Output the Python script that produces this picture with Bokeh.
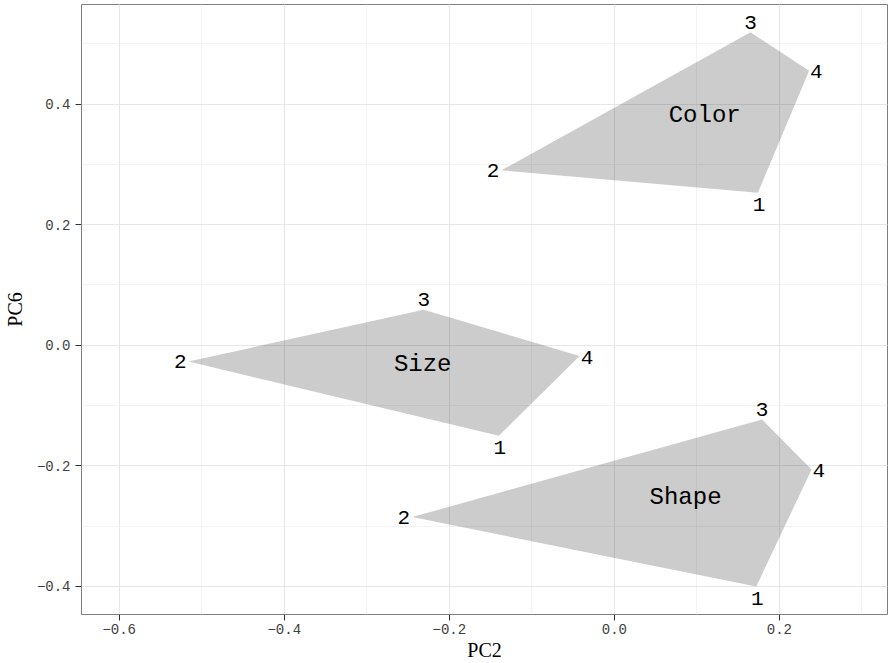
import numpy as np
from bokeh.plotting import figure
from bokeh.models import Range1d, SingleIntervalTicker, CustomJSTickFormatter, ColumnDataSource
from bokeh.core.properties import value
from bokeh.embed import file_html
from bokeh.resources import INLINE

# Principal-component positions of the four conditions in each feature group
groups = ["Color", "Size", "Shape"]
vertex_ids = ["1", "2", "3", "4"]
pc2_color = [0.174, -0.137, 0.165, 0.236]
pc6_color = [0.253, 0.290, 0.519, 0.455]
pc2_size = [-0.140, -0.516, -0.231, -0.042]
pc6_size = [-0.150, -0.027, 0.059, -0.018]
pc2_shape = [0.172, -0.245, 0.179, 0.239]
pc6_shape = [-0.400, -0.285, -0.123, -0.206]

x_ticks_interval = 0.2

pc2 = [pc2_color, pc2_size, pc2_shape]
pc6 = [pc6_color, pc6_size, pc6_shape]

MONO = "Liberation Mono"
SERIF = "Liberation Serif"

p = figure(width=888, height=663, output_backend="svg", toolbar_location=None,
           x_range=Range1d(-0.6457, 0.331), y_range=Range1d(-0.4465, 0.565),
           min_border_left=80, min_border_right=1, min_border_top=4, min_border_bottom=49)

p.background_fill_color = "white"
p.border_fill_color = "white"
p.outline_line_color = "#7F7F7F"
p.outline_line_width = 1

# axes
fmt = CustomJSTickFormatter(code="""
const a = Math.abs(tick) < 1e-9 ? 0 : tick;
return (a < 0 ? '\u2212' : '') + Math.abs(a).toFixed(1);
""")
for ax, lab in ((p.xaxis, "PC2"), (p.yaxis, "PC6")):
    ax.ticker = SingleIntervalTicker(interval=x_ticks_interval, num_minor_ticks=2)
    ax.formatter = fmt
    ax.axis_label = lab
    ax.axis_label_text_font = SERIF
    ax.axis_label_text_font_size = "20px"
    ax.axis_label_text_font_style = "normal"
    ax.axis_label_text_color = "black"
    ax.major_label_text_font = MONO
    ax.major_label_text_font_size = "14px"
    ax.major_label_text_color = "#404040"
    ax.axis_line_color = None
    ax.major_tick_line_color = "#333333"
    ax.major_tick_out = 6
    ax.major_tick_in = 0
    ax.minor_tick_line_color = None
p.xaxis.major_label_standoff = 3
p.xaxis.axis_label_standoff = 2
p.yaxis.major_label_standoff = 5
p.yaxis.axis_label_standoff = 8

for g in (p.xgrid, p.ygrid):
    g.grid_line_color = "#E6E6E6"
    g.grid_line_width = 1
    g.minor_grid_line_color = "#F3F3F3"
    g.minor_grid_line_width = 1

# hull polygons, one per group
poly_src = ColumnDataSource(dict(xs=pc2, ys=pc6, group=groups))
p.patches("xs", "ys", source=poly_src, fill_color="black", fill_alpha=0.2, line_color=None)

# vertex numbers placed around each corner
placement = {
    "1": ("center", 1, 12),
    "2": ("right", -2, 0),
    "3": ("center", 0, -10),
    "4": ("left", 1, 1),
}
vx, vy, vt, va, vxo, vyo = [], [], [], [], [], []
for xs, ys in zip(pc2, pc6):
    for vid, x, y in zip(vertex_ids, xs, ys):
        a, xo, yo = placement[vid]
        vx.append(x); vy.append(y); vt.append(vid)
        va.append(a); vxo.append(xo); vyo.append(yo)
vsrc = ColumnDataSource(dict(x=vx, y=vy, text=vt, align=va, xo=vxo, yo=vyo))
p.text("x", "y", text="text", source=vsrc, text_align="align", text_baseline="alphabetic",
       x_offset="xo", y_offset="yo", text_font=value(MONO), text_font_size="21px",
       text_color="black")

# group names at the centre of each hull
gsrc = ColumnDataSource(dict(
    x=[float(np.mean(xs)) for xs in pc2],
    y=[float(np.mean(ys)) for ys in pc6],
    text=groups))
p.text("x", "y", text="text", source=gsrc, text_align="center", text_baseline="middle",
       y_offset=-1, text_font=value(MONO), text_font_size="24px", text_color="black")

open("out.html", "w").write(file_html(p, INLINE))
